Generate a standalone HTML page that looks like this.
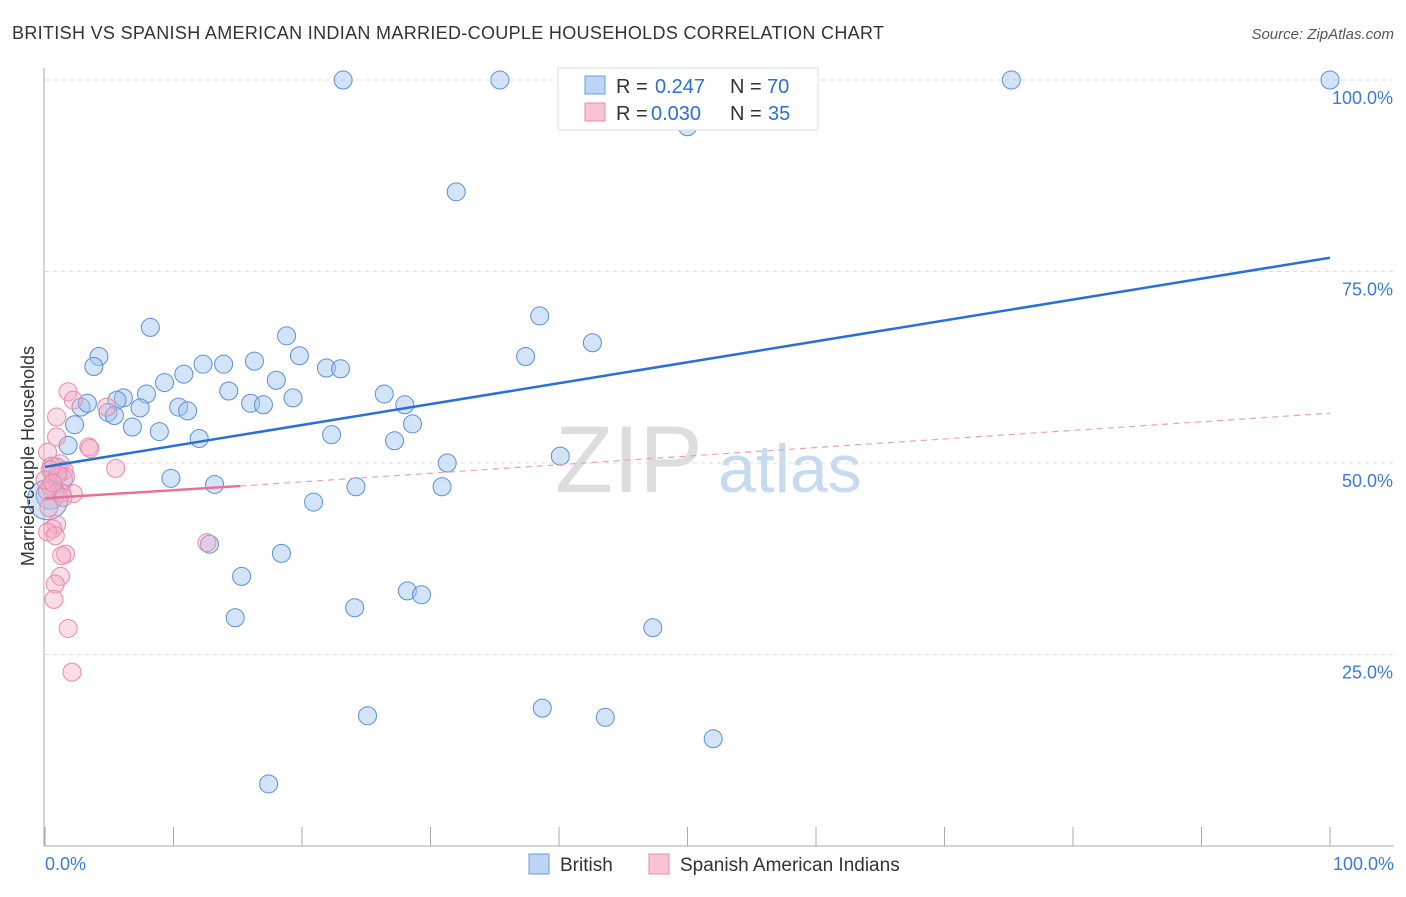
<!DOCTYPE html>
<html><head><meta charset="utf-8"><style>
body{margin:0;background:#fff;font-family:"Liberation Sans",sans-serif;}
svg text{font-family:"Liberation Sans",sans-serif;}
</style></head><body>
<svg width="1406" height="892" xmlns="http://www.w3.org/2000/svg">
<text x="12" y="39" font-size="18" fill="#333" textLength="872">BRITISH VS SPANISH AMERICAN INDIAN MARRIED-COUPLE HOUSEHOLDS CORRELATION CHART</text>
<text x="1394" y="39" font-size="15" fill="#555" font-style="italic" text-anchor="end">Source: ZipAtlas.com</text>
<g id="grid"></g>
<text x="555" y="492" font-size="95" fill="#ddd" font-family="Liberation Serif">ZIP</text>
<text x="718" y="492" font-size="68" fill="#c8daf0">atlas</text>
<g id="pts"></g>
<g id="lines"></g>
<text x="34" y="456" font-size="18" fill="#333" text-anchor="middle" transform="rotate(-90 34 456)">Married-couple Households</text>
<text x="45" y="870" font-size="18" fill="#3a7bd5">0.0%</text>
<text x="1394" y="870" font-size="18" fill="#3a7bd5" text-anchor="end">100.0%</text>
<g>
<rect x="558" y="68" width="260" height="62" fill="#fff" stroke="#ddd"/>
<rect x="585" y="76" width="20" height="18" fill="#bcd4f5" stroke="#6a9ee0"/>
<text x="616" y="93" font-size="20" fill="#333">R =</text>
<text x="655" y="93" font-size="20" fill="#2d6fd0">0.247</text>
<text x="730" y="93" font-size="20" fill="#333">N =</text>
<text x="767" y="93" font-size="20" fill="#2d6fd0">70</text>
<rect x="585" y="103" width="20" height="18" fill="#f9c4d4" stroke="#eb8aa8"/>
<text x="616" y="120" font-size="20" fill="#333">R =</text>
<text x="651" y="120" font-size="20" fill="#2d6fd0">0.030</text>
<text x="730" y="120" font-size="20" fill="#333">N =</text>
<text x="768" y="120" font-size="20" fill="#2d6fd0">35</text>
</g>
<g>
<rect x="529" y="854" width="20" height="20" fill="#bcd4f5" stroke="#6a9ee0"/>
<text x="560" y="871" font-size="19" fill="#333">British</text>
<rect x="649" y="854" width="20" height="20" fill="#f9c4d4" stroke="#eb8aa8"/>
<text x="680" y="871" font-size="19" fill="#333">Spanish American Indians</text>
</g>
</svg>
<script>
const yTicks=[25,50,75,100];
const yTickLabels=["25.0%","50.0%","75.0%","100.0%"];
const xTicks=[0,10,20,30,40,50,60,70,80,90,100];
const britishX=[23.2,35.4,75.2,100,50,32,8.2,38.5,18.8,42.6,4.2,19.8,37.4,16.3,12.3,13.9,3.8,10.8,21.9,23,9.3,18,2.8,14.3,7.9,6.1,26.4,19.3,3.3,5.6,7.4,10.4,16,17,28,11.1,4.9,5.4,28.6,2.3,6.8,8.9,22.3,12,27.2,1.8,40.1,31.3,9.8,13.2,24.2,30.9,20.9,12.8,18.4,15.3,24.1,28.2,29.3,14.8,47.3,25.1,38.7,43.6,52,17.4,0.8,1.2,0.4,0.2];
const britishY=[100,100,100,100,93.9,85.4,67.7,69.2,66.6,65.7,63.9,64,63.9,63.3,62.9,62.9,62.6,61.6,62.4,62.3,60.5,60.8,57.3,59.4,59,58.5,59,58.5,57.8,58.2,57.2,57.3,57.8,57.6,57.6,56.8,56.6,56.2,55.1,55,54.7,54.1,53.7,53.2,52.9,52.3,50.9,50,48,47.2,46.9,46.9,44.9,39.4,38.2,35.2,31.1,33.3,32.8,29.8,28.5,17,18,16.8,14,8.1,49.1,47.8,45.8,45.2];
const britishR=[9,9,9,9,9,9,9,9,9,9,9,9,9,9,9,9,9,9,9,9,9,9,9,9,9,9,9,9,9,9,9,9,9,9,9,9,9,9,9,9,9,9,9,9,9,9,9,9,9,9,9,9,9,9,9,9,9,9,9,9,9,9,9,9,9,9,12,12,14,20];
const spanishX=[1.8,2.2,4.8,0.9,0.9,3.4,3.5,0.2,5.5,1.2,0.5,1.5,1.6,0.4,2.2,1.3,0.2,0.9,0.6,0.2,1.6,1.3,1.2,0.8,0.7,1.8,2.1,12.6,0.4,0,1,0.6,1.4,0.3,0.8];
const spanishY=[59.3,58.2,57.3,56,53.4,52.1,51.9,51.4,49.3,49.9,49.6,49,48.2,47,46,46.1,46.3,42,41.4,41,38.1,37.9,35.2,34.2,32.2,28.4,22.7,39.6,49.1,47.8,48.5,47.4,45.5,44.2,40.5];
const blueLine=[0,49.5,100,76.8];
const pinkSolid=[0,45.4,15.2,47];
const pinkDash=[15.2,47,100,56.5];
const X=v=>45+v*12.85, Y=v=>846-v*7.66;
const NS="http://www.w3.org/2000/svg";
function mk(tag,at,parent){const e=document.createElementNS(NS,tag);for(const k in at)e.setAttribute(k,at[k]);parent.appendChild(e);return e;}
const grid=document.getElementById('grid'),pts=document.getElementById('pts'),lines=document.getElementById('lines'),svg=document.querySelector('svg');
yTicks.forEach((t,i)=>{
 const l=mk('line',{x1:45,x2:1394,y1:Y(t),y2:Y(t),stroke:'#ddd','stroke-dasharray':'4,4'},grid);
 
 
 const tx=mk('text',{x:1393,y:Y(t)+24,'font-size':18,fill:'#3a7bd5','text-anchor':'end'},svg);
 tx.textContent=yTickLabels[i];
 
 
});
const ya=mk('line',{x1:44,x2:44,y1:68,y2:846,stroke:'#aaa'},grid);


const xa=mk('line',{x1:44,x2:1394,y1:846,y2:846,stroke:'#aaa'},grid);


xTicks.forEach(t=>{const e=mk('line',{x1:X(t),x2:X(t),y1:827,y2:846,stroke:'#aaa'},grid);
 
 });
britishX.forEach((v,i)=>{const c=mk('circle',{cx:X(v),cy:Y(britishY[i]),r:britishR[i],fill:'rgba(160,195,240,0.45)',stroke:'#5b8fd8','stroke-width':1},pts);
 
 });
spanishX.forEach((v,i)=>{const c=mk('circle',{cx:X(v),cy:Y(spanishY[i]),r:9,fill:'rgba(245,170,195,0.4)',stroke:'#e88aa8','stroke-width':1},pts);
 
 });
const b=mk('line',{x1:X(blueLine[0]),y1:Y(blueLine[1]),x2:X(blueLine[2]),y2:Y(blueLine[3]),stroke:'#2a6fd6','stroke-width':2.5},lines);


const p=mk('line',{x1:X(pinkSolid[0]),y1:Y(pinkSolid[1]),x2:X(pinkSolid[2]),y2:Y(pinkSolid[3]),stroke:'#e8709a','stroke-width':2.5},lines);


const pd=mk('line',{x1:X(pinkDash[0]),y1:Y(pinkDash[1]),x2:X(pinkDash[2]),y2:Y(pinkDash[3]),stroke:'#e8a0b8','stroke-width':1.2,'stroke-dasharray':'6,5'},lines);


</script>
</body></html>
